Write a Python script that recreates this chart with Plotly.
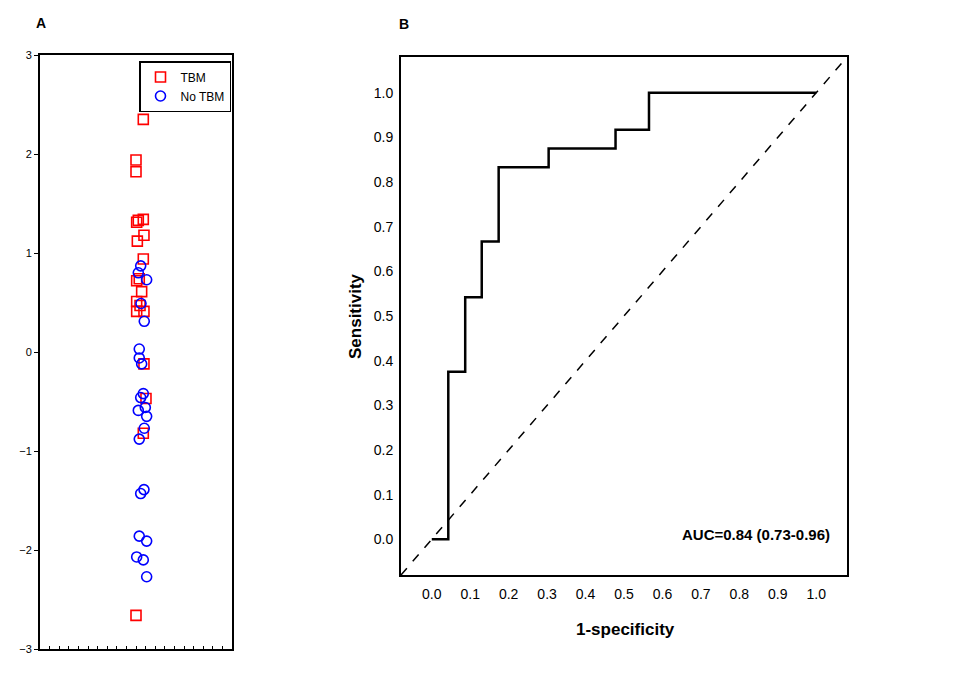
import plotly.graph_objects as go

# Panel A: individual scores (jittered x position, score)
tbm_x = [10.76, 10.0, 10.0, 10.07, 10.24, 10.76, 10.83, 10.14, 10.76, 10.07,
         10.34, 10.59, 10.07, 10.42, 10.07, 10.83, 10.83, 11.04, 10.76, 10.0]
tbm_y = [2.35, 1.94, 1.82, 1.31, 1.33, 1.34, 1.18, 1.12, 0.94, 0.72,
         0.74, 0.61, 0.51, 0.47, 0.41, 0.41, -0.12, -0.47, -0.82, -2.66]
notbm_x = [10.49, 10.24, 11.11, 10.52, 10.86, 10.34, 10.34, 10.59, 10.76, 10.49, 10.24,
           10.97, 11.11, 10.86, 10.34, 10.83, 10.49, 10.34, 11.11, 10.07, 10.76, 11.11]
notbm_y = [0.87, 0.80, 0.73, 0.49, 0.31, 0.03, -0.06, -0.12, -0.42, -0.46, -0.59,
           -0.56, -0.65, -0.77, -0.88, -1.39, -1.43, -1.86, -1.91, -2.07, -2.10, -2.27]

# Panel B: ROC curve
fpr = [0.0, 0.043, 0.087, 0.13, 0.174, 0.304, 0.478, 0.565, 1.0]
tpr = [0.0, 0.375, 0.542, 0.667, 0.833, 0.875, 0.917, 1.0, 1.0]
roc_ticks = [0.0, 0.1, 0.2, 0.3, 0.4, 0.5, 0.6, 0.7, 0.8, 0.9, 1.0]
auc_text = "AUC=0.84 (0.73-0.96)"

FONT = "Arial, Liberation Sans, sans-serif"
W, H = 957, 677
OFF = 8  # page body margin the browser adds around the plot div


def px_x(p):
    return (p - OFF) / W


def px_y(p):
    return 1 - (p - OFF) / H


def label(text, x, y, size, angle=0):
    fig.add_annotation(text=text, x=px_x(x), y=px_y(y), xref="paper", yref="paper",
                       xanchor="center", yanchor="middle", textangle=angle,
                       showarrow=False, font=dict(size=size, family=FONT, color="black"))


fig = go.Figure()
fig.add_trace(go.Scatter(
    x=tbm_x, y=tbm_y, mode="markers", name="TBM",
    marker=dict(symbol="square-open", size=10, color="#ff0000", line=dict(width=1.6)),
    xaxis="x", yaxis="y",
))
fig.add_trace(go.Scatter(
    x=notbm_x, y=notbm_y, mode="markers", name="No TBM",
    marker=dict(symbol="circle-open", size=10, color="#0000ff", line=dict(width=1.6)),
    xaxis="x", yaxis="y",
))
fig.add_trace(go.Scatter(
    x=fpr, y=tpr, mode="lines", line=dict(color="black", width=2.5, shape="hv"),
    showlegend=False, xaxis="x2", yaxis="y2",
))

# chance line, corner to corner of panel B
fig.add_shape(type="line", xref="x2 domain", yref="y2 domain", x0=0, y0=0, x1=1, y1=1,
              line=dict(color="black", width=1.5, dash="dash"))

label("<b>A</b>", 41, 23, 14)
label("<b>B</b>", 404, 24, 14)
label("<b>1-specificity</b>", 625, 629, 17)
label("<b>Sensitivity</b>", 355, 316, 17, angle=-90)
fig.add_annotation(text="<b>" + auc_text + "</b>", x=1.04, y=0.01, xref="x2", yref="y2",
                   xanchor="right", yanchor="middle", showarrow=False,
                   font=dict(size=15, family=FONT, color="black"))

fig.update_layout(
    width=W, height=H,
    margin=dict(l=0, r=0, t=0, b=0),
    paper_bgcolor="white", plot_bgcolor="white",
    font=dict(family=FONT, color="black"),
    legend=dict(
        x=px_x(231), y=px_y(61), xanchor="right", yanchor="top",
        bordercolor="black", borderwidth=1.5, bgcolor="white",
        font=dict(size=12, family=FONT), tracegroupgap=0, itemwidth=30,
    ),
    xaxis=dict(
        domain=[px_x(40), px_x(232)], range=[0, 20], showline=True, linecolor="black",
        linewidth=2, mirror=True, ticks="inside", dtick=1, ticklen=3, tickcolor="black",
        showticklabels=False, showgrid=False, zeroline=False, automargin=False,
    ),
    yaxis=dict(
        domain=[px_y(649), px_y(55)], range=[-3, 3], showline=True, linecolor="black",
        linewidth=2, mirror=True, ticks="outside", dtick=1, ticklen=4, tickcolor="black",
        tickfont=dict(size=11, family=FONT), showgrid=False, zeroline=False,
        automargin=False,
    ),
    xaxis2=dict(
        domain=[px_x(401), px_x(847)], range=[-0.08, 1.08], showline=True, linecolor="black",
        linewidth=2, mirror=True, ticks="", tickvals=roc_ticks, tickformat=".1f",
        tickfont=dict(size=14, family=FONT), showgrid=False, zeroline=False,
        ticklabelstandoff=5, automargin=False, anchor="y2",
    ),
    yaxis2=dict(
        domain=[px_y(575), px_y(57)], range=[-0.08, 1.08], showline=True, linecolor="black",
        linewidth=2, mirror=True, ticks="", tickvals=roc_ticks, tickformat=".1f",
        tickfont=dict(size=14, family=FONT), showgrid=False, zeroline=False,
        ticklabelstandoff=3, automargin=False, anchor="x2",
    ),
)

fig.write_html("out.html")
